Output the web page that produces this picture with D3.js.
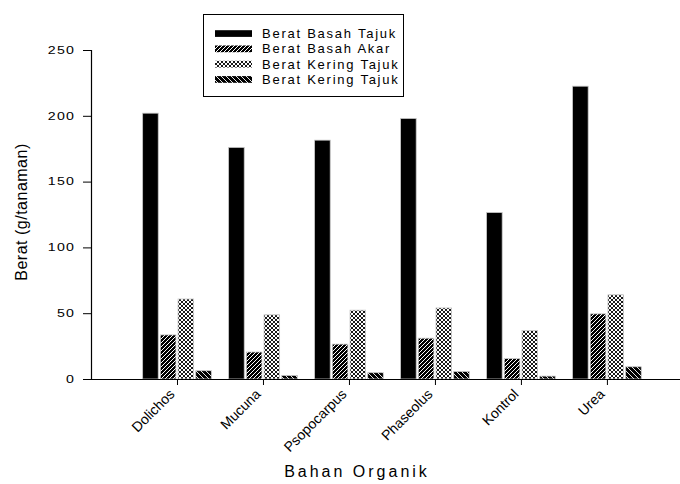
<!DOCTYPE html>
<html>
<head>
<meta charset="utf-8">
<script src="https://cdn.jsdelivr.net/npm/d3@7"></script>
<style>
  body { margin: 0; background: #fff; }
  text { font-family: Arial, "Liberation Sans", sans-serif; }
</style>
</head>
<body>
<svg id="canvas" width="680" height="484"></svg>
<script>
// categories and series
let categories = ["Dolichos", "Mucuna", "Psopocarpus", "Phaseolus", "Kontrol", "Urea"];
let seriesNames = ["Berat Basah Tajuk", "Berat Basah Akar", "Berat Kering Tajuk", "Berat Kering Tajuk"];
let basahTajuk = [202, 176, 181.5, 198, 126.5, 222.5];
let basahAkar = [33.5, 20.5, 26.5, 31, 15.5, 49.5];
let keringTajuk = [60.8, 48.8, 52.3, 54, 36.8, 64];
let keringTajuk2 = [6.3, 2.7, 4.8, 5.7, 2.2, 9.3];
let yTicks = [0, 50, 100, 150, 200, 250];

let series = [basahTajuk, basahAkar, keringTajuk, keringTajuk2];
let fills = ["#000", "url(#hatchA)", "url(#cross)", "url(#hatchB)"];

let canvas = d3.select('#canvas');

// patterns
let defs = canvas.append("defs");
let pA = defs.append("pattern").attr("id", "hatchA").attr("patternUnits", "userSpaceOnUse")
    .attr("width", 4).attr("height", 4);
pA.append("rect").attr("width", 4).attr("height", 4).attr("fill", "#000");
pA.append("path").attr("d", "M-1,1 l2,-2 M0,4 l4,-4 M3,5 l2,-2").attr("stroke", "#fff").attr("stroke-width", 1);

let pC = defs.append("pattern").attr("id", "cross").attr("patternUnits", "userSpaceOnUse")
    .attr("width", 4).attr("height", 4);
pC.append("rect").attr("width", 4).attr("height", 4).attr("fill", "#fff");
pC.append("path").attr("d", "M-1,1 l2,-2 M0,4 l4,-4 M3,5 l2,-2 M-1,3 l2,2 M0,0 l4,4 M3,-1 l2,2")
    .attr("stroke", "#000").attr("stroke-width", 0.9);

let pB = defs.append("pattern").attr("id", "hatchB").attr("patternUnits", "userSpaceOnUse")
    .attr("width", 5).attr("height", 5);
pB.append("rect").attr("width", 5).attr("height", 5).attr("fill", "#000");
pB.append("path").attr("d", "M-1,4 l2,2 M0,0 l5,5 M4,-1 l2,2").attr("stroke", "#fff").attr("stroke-width", 0.9);

// scales
let x = d3.scaleLinear().domain([0, 6.85]).range([91, 680]);
let y = d3.scaleLinear().domain([0, 250]).range([379, 50]);

// bars
let pitch = 17.7, bw = 15.6;
series.forEach((vals, j) => {
    canvas.append("g").selectAll("rect")
        .data(vals)
        .enter()
        .append("rect")
        .attr("x", (d, i) => x(i + 1) + (j - 1.5) * pitch - bw / 2)
        .attr("y", d => y(d))
        .attr("width", bw)
        .attr("height", d => y(0) - y(d))
        .attr("fill", fills[j])
        .attr("stroke", "#c8c8c8")
        .attr("stroke-width", 0.8);
});

// y axis (tick labels are stretched wide like the original)
let yAxis = canvas.append("g").attr("transform", "translate(91,0)")
    .call(d3.axisLeft(y).tickValues(yTicks).tickSize(8));
yAxis.select(".domain").attr("stroke-width", 1.2);
yAxis.selectAll("text")
    .attr("font-size", 10.5)
    .attr("letter-spacing", 1)
    .attr("fill", "#000")
    .attr("x", -11.6)
    .attr("transform", "scale(1.35,1)");

// x axis
let xAxis = canvas.append("g").attr("transform", "translate(0,379)")
    .call(d3.axisBottom(x).tickValues([1, 2, 3, 4, 5, 6]).tickSize(6).tickSizeOuter(0)
        .tickFormat(d => categories[d - 1]));
xAxis.select(".domain").attr("stroke-width", 1.2);
xAxis.selectAll("text")
    .attr("font-size", 14)
    .attr("fill", "#000")
    .attr("text-anchor", "end")
    .attr("x", 0).attr("y", 0).attr("dy", 0)
    .attr("transform", "translate(-2,16) rotate(-45)");

// axis titles
canvas.append("text")
    .attr("transform", "translate(26.5,212) rotate(-90)")
    .attr("text-anchor", "middle")
    .attr("font-size", 16)
    .attr("letter-spacing", 0.5)
    .text("Berat (g/tanaman)");

canvas.append("text")
    .attr("x", 357).attr("y", 477)
    .attr("text-anchor", "middle")
    .attr("font-size", 16)
    .attr("letter-spacing", 3)
    .text("Bahan Organik");

// legend
let legend = canvas.append("g");
legend.append("rect").attr("x", 203.5).attr("y", 14.5).attr("width", 200).attr("height", 82)
    .attr("fill", "#fff").attr("stroke", "#000");
seriesNames.forEach((name, j) => {
    let ly = 33.5 + j * 15.3;
    legend.append("rect").attr("x", 215).attr("y", ly - 3.3).attr("width", 37).attr("height", 6.7)
        .attr("fill", fills[j]);
    legend.append("text").attr("x", 262).attr("y", ly + 4.5)
        .attr("font-size", 13).attr("letter-spacing", 1.75)
        .text(name);
});
</script>
</body>
</html>
